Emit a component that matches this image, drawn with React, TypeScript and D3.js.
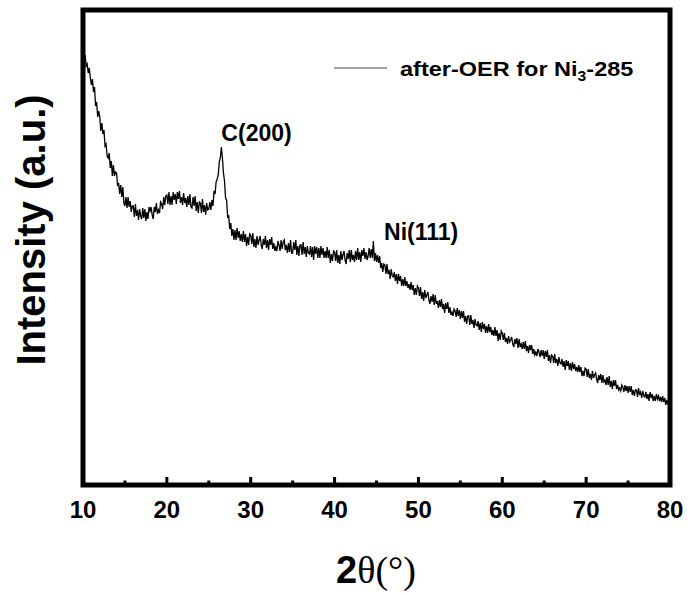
import React from 'react';
import * as d3 from 'd3';

// ---- data ----
const xMajorTicks = [10, 20, 30, 40, 50, 60, 70, 80];
const xMinorTicks = [15, 25, 35, 45, 55, 65, 75];
const angleStart = 10;
const angleStep = 0.125;
// intensity (a.u.) sampled every 0.125° from 10° to 80° (one row per degree)
const intensity = [
  427, 421, 430, 419, 421, 412, 417, 407, // 10
  400, 406, 393, 398, 379, 383, 368, 374, // 11
  368, 354, 362, 351, 355, 339, 341, 329, // 12
  327, 332, 317, 324, 309, 320, 309, 313, // 13
  312, 299, 302, 291, 300, 288, 298, 282, // 14
  279, 288, 277, 288, 278, 284, 273, 279, // 15
  279, 268, 281, 269, 275, 265, 276, 269, // 16
  266, 277, 267, 276, 264, 273, 266, 278, // 17
  274, 278, 270, 266, 278, 273, 282, 271, // 18
  275, 272, 283, 281, 276, 288, 280, 289, // 19
  290, 281, 293, 280, 289, 280, 293, 285, // 20
  291, 281, 293, 286, 294, 282, 288, 280, // 21
  292, 282, 287, 278, 289, 280, 291, 278, // 22
  277, 288, 279, 289, 274, 283, 272, 283, // 23
  282, 272, 286, 273, 280, 270, 282, 275, // 24
  276, 283, 275, 285, 279, 294, 291, 303, // 25
  306, 310, 323, 327, 338, 327, 312, 304, // 26
  287, 285, 268, 269, 256, 262, 249, 256, // 27
  245, 255, 245, 257, 247, 254, 244, 251, // 28
  243, 254, 243, 251, 239, 248, 240, 251, // 29
  250, 241, 252, 238, 246, 237, 249, 240, // 30
  245, 249, 240, 236, 246, 240, 249, 237, // 31
  245, 235, 246, 240, 248, 236, 242, 234, // 32
  238, 234, 244, 240, 234, 245, 236, 243, // 33
  245, 235, 240, 232, 242, 233, 245, 232, // 34
  232, 243, 235, 245, 230, 239, 229, 240, // 35
  240, 230, 243, 231, 238, 228, 239, 232, // 36
  231, 239, 228, 238, 225, 239, 231, 238, // 37
  227, 237, 227, 239, 230, 237, 227, 234, // 38
  227, 238, 227, 235, 222, 231, 224, 234, // 39
  233, 224, 235, 222, 230, 221, 234, 225, // 40
  230, 234, 225, 221, 232, 226, 235, 223, // 41
  235, 225, 230, 223, 234, 225, 237, 225, // 42
  233, 223, 235, 229, 237, 226, 233, 225, // 43
  229, 237, 227, 236, 227, 244, 224, 232, // 44
  223, 230, 222, 229, 217, 222, 213, 221, // 45
  220, 211, 221, 211, 215, 206, 216, 209, // 46
  208, 213, 204, 211, 201, 211, 204, 209, // 47
  199, 206, 199, 208, 199, 204, 197, 201, // 48
  195, 203, 195, 200, 190, 197, 190, 199, // 49
  197, 189, 198, 186, 193, 184, 195, 187, // 50
  190, 193, 185, 181, 189, 183, 191, 180, // 51
  190, 181, 184, 177, 185, 178, 186, 176, // 52
  181, 172, 182, 176, 183, 172, 178, 170, // 53
  173, 169, 176, 174, 168, 177, 169, 175, // 54
  166, 174, 167, 174, 163, 169, 161, 169, // 55
  169, 160, 170, 161, 165, 157, 166, 160, // 56
  159, 164, 155, 162, 153, 163, 156, 161, // 57
  152, 159, 152, 161, 153, 158, 150, 155, // 58
  149, 158, 149, 155, 144, 152, 145, 154, // 59
  152, 145, 152, 143, 147, 141, 149, 143, // 60
  145, 148, 141, 138, 146, 141, 147, 137, // 61
  146, 138, 141, 136, 143, 136, 144, 134, // 62
  139, 132, 140, 135, 140, 131, 136, 130, // 63
  133, 129, 136, 133, 128, 135, 129, 135, // 64
  126, 134, 128, 135, 124, 130, 122, 130, // 65
  129, 122, 131, 122, 126, 119, 128, 122, // 66
  121, 126, 118, 124, 115, 125, 119, 124, // 67
  115, 122, 114, 123, 116, 121, 114, 118, // 68
  113, 120, 113, 118, 109, 114, 109, 117, // 69
  116, 108, 116, 107, 111, 105, 114, 107, // 70
  110, 112, 106, 102, 110, 105, 111, 102, // 71
  110, 103, 105, 100, 108, 100, 109, 98, // 72
  104, 96, 105, 99, 105, 96, 100, 95, // 73
  97, 94, 100, 98, 93, 100, 94, 99, // 74
  92, 99, 93, 99, 90, 95, 89, 95, // 75
  95, 88, 97, 90, 93, 87, 94, 89, // 76
  88, 93, 86, 91, 84, 93, 87, 91, // 77
  84, 89, 84, 91, 86, 89, 84, 88, // 78
  83, 89, 83, 87, 80, 85, 81, 87, // 79
  83, // 80
];
const peakLabels = [
  { label: 'C(200)', angle: 26.5, value: 344 },
  { label: 'Ni(111)', angle: 45.9, value: 245 },
];
const legendMain = 'after-OER for Ni';
const legendSub = '3';
const legendTail = '-285';
const xTitleBold = '2';
const xTitleRest = 'θ(°)';
const yTitle = 'Intensity (a.u.)';

const W = 691;
const H = 595;
const left = 83, right = 670, top = 10, bottom = 485;

export default function App() {
  const x = d3.scaleLinear().domain([10, 80]).range([left, right]);
  const y = d3.scaleLinear().domain([0, 475]).range([bottom, top]);
  const pts: [number, number][] = intensity.map((v, i) => [angleStart + i * angleStep, v]);
  const line = d3.line<[number, number]>().x(d => x(d[0])).y(d => y(d[1]));
  const sans = "'Liberation Sans', Arial, sans-serif";
  const serif = "'Liberation Serif', 'Times New Roman', serif";
  return (
    <svg width={W} height={H} style={{ position: 'absolute', left: 0, top: 0, background: '#fff' }}>
      <defs>
        <clipPath id="plotclip">
          <rect x={left} y={top} width={right - left} height={bottom - top} />
        </clipPath>
      </defs>
      <path d={line(pts) || ''} fill="none" stroke="#000" strokeWidth={1.3} strokeLinejoin="miter" clipPath="url(#plotclip)" />
      <rect x={left} y={top} width={right - left} height={bottom - top} fill="none" stroke="#000" strokeWidth={5} />
      {xMajorTicks.map(t => (
        <g key={'M' + t}>
          <line x1={x(t)} x2={x(t)} y1={bottom} y2={bottom - 8} stroke="#000" strokeWidth={3} />
          <text x={x(t)} y={518} textAnchor="middle" fontFamily={sans} fontWeight="bold" fontSize={24}>{t}</text>
        </g>
      ))}
      {xMinorTicks.map(t => (
        <line key={'m' + t} x1={x(t)} x2={x(t)} y1={bottom} y2={bottom - 4.5} stroke="#000" strokeWidth={3} />
      ))}
      {peakLabels.map(p => (
        <text key={p.label} x={x(p.angle)} y={y(p.value)} fontFamily={sans} fontWeight="bold" fontSize={23}>{p.label}</text>
      ))}
      <line x1={334} x2={387} y1={68} y2={68} stroke="#444" strokeWidth={1} />
      <text transform="translate(400,76) scale(1.12,1)" fontFamily={sans} fontWeight="bold" fontSize={21}>
        {legendMain}
        <tspan fontSize={14} dy={5}>{legendSub}</tspan>
        <tspan dy={-5}>{legendTail}</tspan>
      </text>
      <text x={376} y={583} textAnchor="middle" fontSize={38}>
        <tspan fontFamily={sans} fontWeight="bold">{xTitleBold}</tspan>
        <tspan fontFamily={serif}>{xTitleRest}</tspan>
      </text>
      <text transform={`translate(45,230) rotate(-90)`} textAnchor="middle" fontFamily={sans} fontWeight="bold" fontSize={40}>{yTitle}</text>
    </svg>
  );
}
